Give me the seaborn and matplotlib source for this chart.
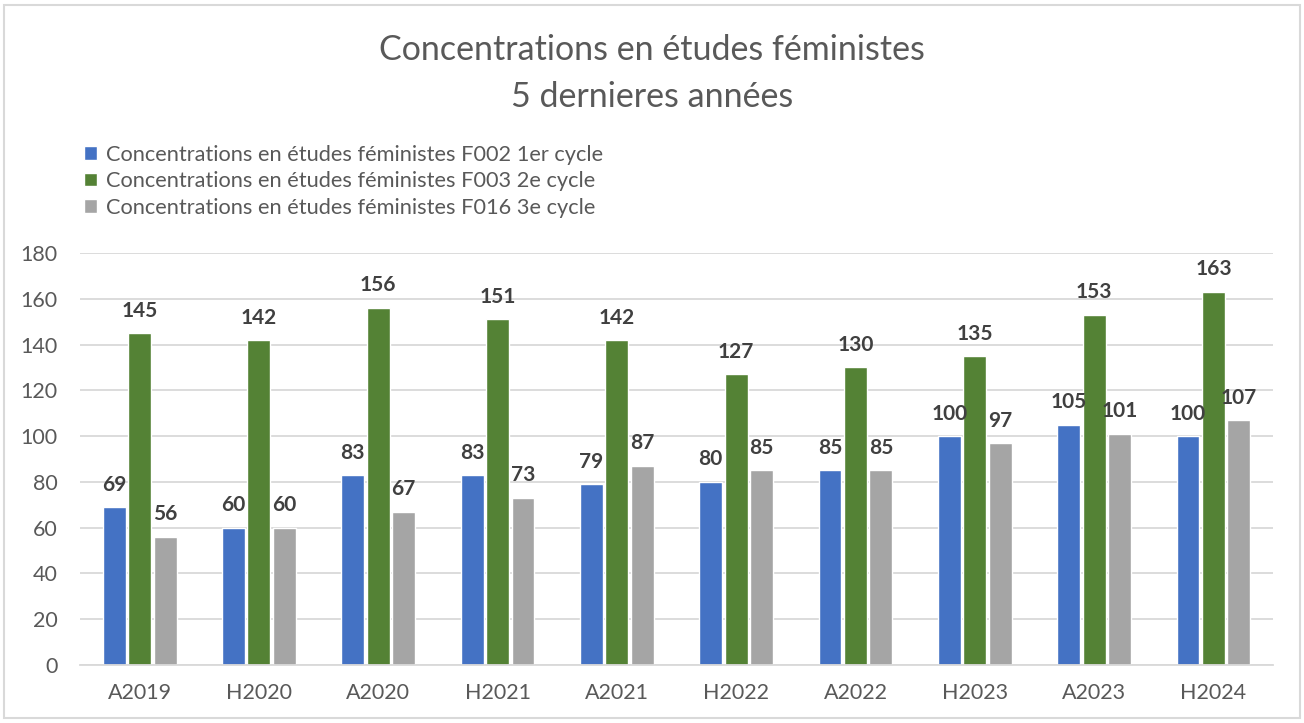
import matplotlib
matplotlib.use('Agg')
import matplotlib.pyplot as plt
import seaborn as sns
import pandas as pd
from matplotlib.patches import Rectangle

# données
sessions = ['A2019', 'H2020', 'A2020', 'H2021', 'A2021',
            'H2022', 'A2022', 'H2023', 'A2023', 'H2024']
f002 = [69, 60, 83, 83, 79, 80, 85, 100, 105, 100]
f003 = [145, 142, 156, 151, 142, 127, 130, 135, 153, 163]
f016 = [56, 60, 67, 73, 87, 85, 85, 97, 101, 107]
series = ['Concentrations en études féministes F002 1er cycle',
          'Concentrations en études féministes F003 2e cycle',
          'Concentrations en études féministes F016 3e cycle']
couleurs = ['#4472C4', '#548235', '#A5A5A5']

df = pd.DataFrame({
    'session': sessions * 3,
    'valeur': f002 + f003 + f016,
    'serie': [series[0]] * 10 + [series[1]] * 10 + [series[2]] * 10,
})

sns.set_style('white')
plt.rcParams['font.family'] = ['Lato', 'DejaVu Sans']

fig = plt.figure(figsize=(13.04, 7.23), dpi=100)
ax = fig.add_axes([0.0613, 0.0802, 0.915, 0.5698])

sns.barplot(data=df, x='session', y='valeur', hue='serie', palette=couleurs,
            width=0.64, gap=0.1, ax=ax, legend=True, saturation=1)

for c in ax.containers:
    ax.bar_label(c, padding=9, fontsize=15, fontweight='bold', color='#404040')

ax.set_ylim(0, 180)
ax.set_yticks(range(0, 181, 20))
ax.yaxis.grid(True, color='#D9D9D9', linewidth=1.3)
ax.set_axisbelow(True)
for s in ['top', 'right', 'left']:
    ax.spines[s].set_visible(False)
ax.spines['bottom'].set_color('#D9D9D9')
ax.spines['bottom'].set_linewidth(1.3)
ax.tick_params(axis='both', length=0, labelsize=15.5, labelcolor='#595959')
ax.tick_params(axis='x', pad=13)
ax.tick_params(axis='y', pad=16)
ax.set_xlabel('')
ax.set_ylabel('')

h, l = ax.get_legend_handles_labels()
ax.get_legend().remove()
fig.legend(h, l, loc='upper left', bbox_to_anchor=(0.058, 0.812), frameon=False,
           fontsize=15.7, labelcolor='#595959', handlelength=0.6, handleheight=0.6,
           handletextpad=0.4, labelspacing=0.3, borderaxespad=0)

fig.text(0.5, 0.931, 'Concentrations en études féministes', ha='center', va='center',
         fontsize=24.5, color='#595959')
fig.text(0.5, 0.866, '5 dernieres années', ha='center', va='center',
         fontsize=24.5, color='#595959')

fig.patches.append(Rectangle((0.003, 0.007), 0.994, 0.986, transform=fig.transFigure,
                             fill=False, edgecolor='#D9D9D9', linewidth=1.5))

fig.savefig('out.png', dpi=100)
